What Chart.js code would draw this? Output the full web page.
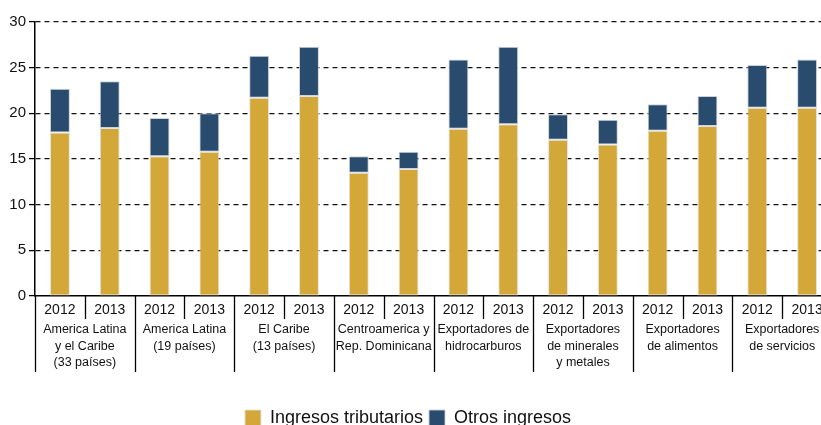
<!DOCTYPE html>
<html>
<head>
<meta charset="utf-8">
<script src="https://cdn.jsdelivr.net/npm/chart.js@4"></script>
<style>
  body { margin: 0; background: #fff; overflow: hidden; width: 821px; height: 425px; }
  #wrap { width: 832px; height: 425px; position: relative; }
</style>
</head>
<body>
<div id="wrap"><canvas id="myChart"></canvas></div>
<script>
const years = ['2012', '2013', '2012', '2013', '2012', '2013', '2012', '2013',
  '2012', '2013', '2012', '2013', '2012', '2013', '2012', '2013'];

const groups = [
  ['America Latina', 'y el Caribe', '(33 países)'],
  ['America Latina', '(19 países)'],
  ['El Caribe', '(13 países)'],
  ['Centroamerica y', 'Rep. Dominicana'],
  ['Exportadores de', 'hidrocarburos'],
  ['Exportadores', 'de minerales', 'y metales'],
  ['Exportadores', 'de alimentos'],
  ['Exportadores', 'de servicios']
];

const tributarios = [17.9, 18.4, 15.3, 15.8, 21.7, 21.9, 13.5, 13.9, 18.3, 18.8, 17.1, 16.6, 18.1, 18.6, 20.6, 20.6];
const otros = [4.8, 5.1, 4.2, 4.2, 4.6, 5.4, 1.8, 1.9, 7.6, 8.5, 2.8, 2.7, 2.9, 3.3, 4.7, 5.3];

const yTicks = [0, 5, 10, 15, 20, 25, 30];

const FONT = 'Liberation Sans, Arial, sans-serif';

// separators and group names under the year labels
const groupAxis = {
  id: 'groupAxis',
  afterLayout(chart) {
    // the canvas is a bit wider than the visible window, keep legend centred on what shows
    chart.legend.left -= 8;
    chart.legend.right -= 8;
  },
  afterDraw(chart) {
    const c = chart.ctx;
    const x = chart.scales.x;
    const base = chart.chartArea.bottom;
    const half = (x.getPixelForValue(1) - x.getPixelForValue(0)) / 2;
    c.save();
    c.strokeStyle = '#000';
    c.lineWidth = 1.3;
    for (let i = 0; i <= years.length; i++) {
      const px = Math.round(x.getPixelForValue(i) - half) + 0.5;
      c.beginPath();
      c.moveTo(px, base);
      c.lineTo(px, i % 2 === 0 ? base + 76 : base + 23);
      c.stroke();
    }
    c.fillStyle = '#111';
    c.font = '12.5px ' + FONT;
    c.textAlign = 'center';
    c.textBaseline = 'middle';
    groups.forEach((g, gi) => {
      const cx = (x.getPixelForValue(gi * 2) + x.getPixelForValue(gi * 2 + 1)) / 2;
      g.forEach((line, li) => {
        c.fillText(line, cx, base + 34 + li * 16.5);
      });
    });
    c.restore();
  }
};

const ctx = document.getElementById('myChart');

const newChart = new Chart(ctx, {
  type: 'bar',
  data: {
    labels: years,
    datasets: [
      {
        label: 'Ingresos tributarios',
        data: tributarios,
        backgroundColor: '#D3A838',
        borderColor: 'rgba(225,225,225,0.9)',
        borderWidth: 1,
        borderSkipped: false,
        barPercentage: 0.4,
        categoryPercentage: 1
      },
      {
        label: 'Otros ingresos',
        data: otros,
        backgroundColor: '#294C6E',
        borderColor: 'rgba(200,205,215,0.9)',
        borderWidth: 1,
        borderSkipped: false,
        barPercentage: 0.4,
        categoryPercentage: 1
      }
    ]
  },
  options: {
    responsive: true,
    maintainAspectRatio: false,
    animation: false,
    layout: { padding: { top: 22, right: 0, left: 0, bottom: -12 } },
    plugins: {
      tooltip: { enabled: false },
      legend: {
        position: 'bottom',
        labels: {
          boxWidth: 16,
          boxHeight: 16,
          padding: 6,
          color: '#111',
          font: { family: FONT, size: 18 },
          useBorderRadius: false
        }
      }
    },
    scales: {
      x: {
        stacked: true,
        grid: { display: false, drawTicks: false, tickLength: 0 },
        border: { display: true, color: '#000', width: 1.5 },
        ticks: {
          color: '#111',
          font: { family: FONT, size: 14 },
          padding: 6,
          maxRotation: 0,
          autoSkip: false
        },
        afterFit: s => { s.height = 107; }
      },
      y: {
        stacked: true,
        min: 0,
        max: 30,
        afterBuildTicks: s => { s.ticks = yTicks.map(v => ({ value: v })); },
        grid: {
          color: c => c.tick.value === 0 ? 'rgba(0,0,0,0)' : '#111',
          lineWidth: 1.2,
          tickBorderDash: [],
          tickColor: '#000',
          tickLength: 6,
          tickWidth: 1.3
        },
        border: { display: true, color: '#000', width: 1.5, dash: [5, 4] },
        ticks: {
          color: '#111',
          font: { family: FONT, size: 15 },
          padding: 3
        },
        afterFit: s => { s.width = 35; }
      }
    }
  },
  plugins: [groupAxis]
});
</script>
</body>
</html>
